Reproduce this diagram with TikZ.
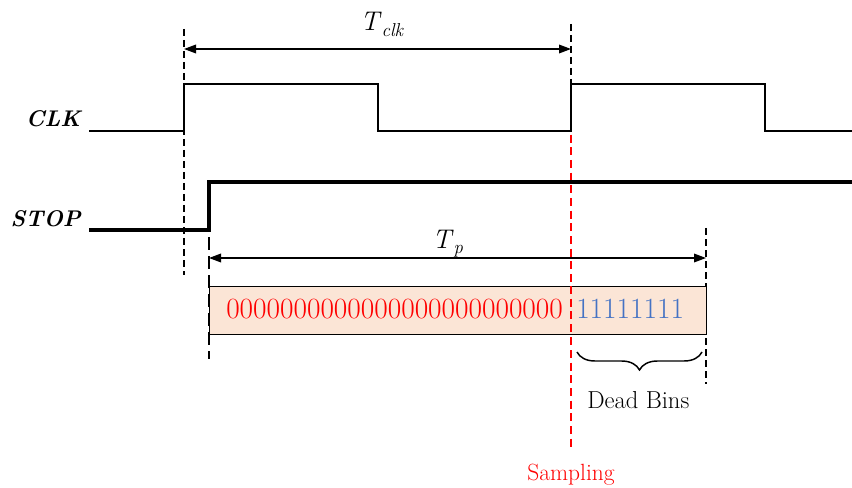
\documentclass[tikz,border=0pt]{standalone}
\usepackage{fontspec}
\usetikzlibrary{arrows.meta,decorations.pathreplacing}
\definecolor{peach}{HTML}{FBE5D6}
\definecolor{bitblue}{HTML}{4472C4}
\newcommand{\fivez}{00000}
\begin{document}
\begin{tikzpicture}[x=0.75pt,y=-0.75pt,
  wave/.style={line width=1pt},
  thickwave/.style={line width=2.3pt},
  guide/.style={line width=1pt,dash pattern=on 5.25pt off 3pt},
  thickguide/.style={line width=2.2pt,dash pattern=on 9.75pt off 4.5pt},
  redguide/.style={red,line width=1pt,dash pattern=on 6pt off 3.5pt},
  dimline/.style={line width=1pt,{Triangle[length=9pt,width=6.5pt]}-{Triangle[length=9pt,width=6.5pt]}},
  sig/.style={font=\fontsize{17}{20}\selectfont\bfseries\itshape,anchor=base east,inner sep=0},
  lbl/.style={anchor=base west,inner sep=0},
  big/.style={font=\fontsize{20.25}{24}\selectfont},
  bits/.style={font=\fontsize{22}{26}\selectfont},
  ]
\useasboundingbox (0,0) rectangle (852,488);

% guide lines
\draw[guide] (184,29) -- (184,275);
\draw[guide] (571,24) -- (571,84);
\draw[redguide] (571,84) -- (571,448);
\draw[thickguide] (209,237) -- (209,359);
\draw[guide] (706,228) -- (706,384);

% CLK waveform
\draw[wave] (89,131) -- (184,131) -- (184,84) -- (378,84) -- (378,131)
  -- (571,131) -- (571,84) -- (765,84) -- (765,131) -- (852,131);
% STOP waveform
\draw[thickwave] (89,230) -- (209,230) -- (209,182) -- (852,182);

% signal labels
\node[sig] (clk) at (81,127) {CLK};
\node[sig] (stop) at (81,227) {STOP};

% dimension arrows
\coordinate (tclkL) at (184,49);
\coordinate (tclkR) at (571,49);
\draw[dimline] (tclkL) -- (tclkR);
\node[lbl,big] (tclk) at (360,31) {\textit{T}\raisebox{-4pt}{\fontsize{14}{16}\selectfont\textit{clk}}};

\coordinate (tpL) at (209,258);
\coordinate (tpR) at (706,258);
\draw[dimline] (tpL) -- (tpR);
\node[lbl,big] (tp) at (432,248) {\textit{T}\raisebox{-4pt}{\fontsize{14}{16}\selectfont\textit{p}}};

% code box
\node[draw,line width=1pt,fill=peach,minimum width=372.75pt,minimum height=36pt,inner sep=0,anchor=north west] (box) at (209,286) {};
\draw[redguide] (571,286) -- (571,334);
\node[lbl,bits,text=red] (zeros) at (226,318) {\fivez\fivez\fivez\fivez\fivez};
\node[lbl,bits,text=bitblue] (ones) at (576,318) {11111111};

% dead bins brace
\coordinate (brL) at (577,352);
\coordinate (brR) at (702,352);
\draw[line width=1.1pt,decorate,decoration={brace,mirror,amplitude=13.5pt}] (brL) -- (brR);
\node[lbl,font=\fontsize{18.4}{22}\selectfont] (dead) at (587,408) {Dead Bins};
\node[anchor=base,inner sep=0,text=red,font=\fontsize{17.6}{21}\selectfont] (samp) at (571,480) {Sampling};
\end{tikzpicture}
\end{document}
